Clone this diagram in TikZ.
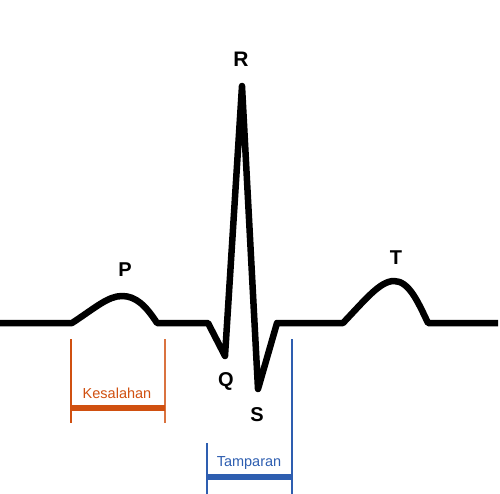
\documentclass[tikz,border=0pt]{standalone}
\usepackage{fontspec}
\setmainfont{Liberation Sans}
\definecolor{errorange}{RGB}{208,80,16}
\definecolor{slapblue}{RGB}{46,94,176}
\usetikzlibrary{positioning}

\begin{document}
\begin{tikzpicture}[
  x=1pt, y=-1pt,
  trace/.style={line width=6.5pt, black, line join=round, line cap=butt},
  wave/.style={font=\fontsize{20}{20}\selectfont\bfseries, inner sep=0pt},
  tick/.style={line width=1.2pt},
  bar/.style={line width=6pt},
  span/.style={font=\fontsize{14.5}{14.5}\selectfont, inner sep=0pt}
]
\useasboundingbox (0,0) rectangle (500,494);

% ---- ECG trace ----
\draw[trace] (0,323) -- (72,323)
  .. controls (95,308) and (108,296) .. (122,296)
  .. controls (136,296) and (146,306) .. (157,323)
  -- (208,323) -- (225,356) -- (242,86) -- (258,389) -- (277,323)
  -- (343,323)
  .. controls (365,300) and (380,281) .. (394,281)
  .. controls (409,281) and (418,302) .. (428,323)
  -- (498,323);

% ---- Wave labels ----
\node[wave] (p) at (125,270) {P};
\node[wave, font=\fontsize{21}{21}\selectfont\bfseries] (r) at (241,59) {R};
\node[wave] (q) at (226,381) {Q};
\node[wave] (s) at (257,415) {S};
\node[wave] (t) at (396,258) {T};

% ---- Kesalahan bracket ----
\coordinate (ktl) at (71,339);
\coordinate (kbl) at (71,423);
\coordinate (ktr) at (165,339);
\coordinate (kbr) at (165,423);
\coordinate (kbarl) at (71,408);
\coordinate (kbarr) at (165,408);
\draw[tick, errorange] (ktl) -- (kbl);
\draw[tick, errorange!80] (ktr) -- (kbr);
\draw[bar, errorange] (kbarl) -- (kbarr);
\node[span, errorange] (kes) at (117,393) {Kesalahan};

% ---- Tamparan bracket ----
\coordinate (ttl) at (207,443);
\coordinate (tbl) at (207,494);
\coordinate (ttr) at (292,339);
\coordinate (tbr) at (292,494);
\coordinate (tbarl) at (207,477);
\coordinate (tbarr) at (292,477);
\draw[tick, slapblue] (ttl) -- (tbl);
\draw[tick, slapblue] (ttr) -- (tbr);
\draw[bar, slapblue] (tbarl) -- (tbarr);
\node[span, slapblue] (tam) at (249,463) {Tamparan};

\end{tikzpicture}
\end{document}
